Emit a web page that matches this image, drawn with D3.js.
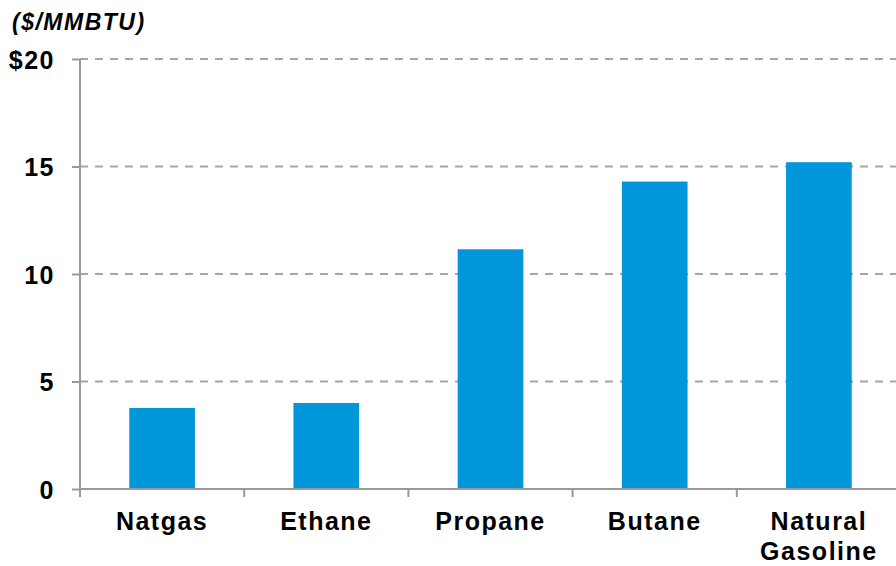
<!DOCTYPE html>
<html>
<head>
<meta charset="utf-8">
<script src="https://cdn.jsdelivr.net/npm/d3@7"></script>
<style>
  body { margin: 0; background: #fff; }
  text { font-family: "Liberation Sans", Arial, sans-serif; font-weight: bold; fill: #000; }
</style>
</head>
<body>
<div id="main"></div>
<script>
const width = 896, height = 566;
const margin = {left: 80, top: 59, right: -5, bottom: 77};

const categories = [["Natgas"], ["Ethane"], ["Propane"], ["Butane"], ["Natural", "Gasoline"]];
const values = [3.77, 4.0, 11.15, 14.3, 15.2];
const yTicks = [0, 5, 10, 15, 20];
const yTickLabels = ["0", "5", "10", "15", "$20"];
const unitLabel = "($/MMBTU)";

let svg = d3.select("#main").append("svg")
    .attr("width", width)
    .attr("height", height);

let scaleX = d3.scaleBand()
    .domain(d3.range(categories.length))
    .range([margin.left, width - margin.right])
    .paddingInner(0.6)
    .paddingOuter(0.3);

let scaleY = d3.scaleLinear()
    .domain([0, 20])
    .range([height - margin.bottom, margin.top]);

// dashed gridlines
svg.append("g")
    .selectAll("line")
    .data(yTicks.filter(d => d > 0))
    .join("line")
    .attr("x1", margin.left)
    .attr("x2", width)
    .attr("y1", d => scaleY(d))
    .attr("y2", d => scaleY(d))
    .attr("stroke", "#a6a6a6")
    .attr("stroke-width", 2)
    .attr("stroke-dasharray", "8,7");

// bars
svg.append("g")
    .selectAll("rect")
    .data(values)
    .join("rect")
    .attr("x", (d, i) => scaleX(i))
    .attr("width", scaleX.bandwidth())
    .attr("y", d => scaleY(d))
    .attr("height", d => scaleY(0) - scaleY(d))
    .attr("fill", "#0097da");

// y axis
let yAxis = svg.append("g")
    .attr("transform", `translate(${margin.left},0)`)
    .call(d3.axisLeft(scaleY).tickValues(yTicks).tickSize(8).tickPadding(17)
        .tickFormat((d, i) => yTickLabels[i]));
yAxis.select(".domain").remove();
yAxis.append("line")
    .attr("x1", 0).attr("x2", 0)
    .attr("y1", scaleY(20)).attr("y2", scaleY(0) + 8)
    .attr("stroke", "#999").attr("stroke-width", 2);
yAxis.selectAll(".tick line").attr("stroke", "#999").attr("stroke-width", 2);
yAxis.selectAll(".tick text")
    .attr("font-size", 25)
    .attr("letter-spacing", 1.5)
    .attr("fill", "#000")
    .attr("font-family", "Liberation Sans, Arial, sans-serif")
    .attr("font-weight", "bold")
    .attr("dy", "0.36em");

// x axis baseline and ticks between categories
let xAxis = svg.append("g");
xAxis.append("line")
    .attr("x1", margin.left).attr("x2", width)
    .attr("y1", scaleY(0)).attr("y2", scaleY(0))
    .attr("stroke", "#999").attr("stroke-width", 2);
xAxis.selectAll(".xtick")
    .data(d3.range(1, categories.length))
    .join("line")
    .attr("class", "xtick")
    .attr("x1", i => scaleX(i) - scaleX.step() * 0.3)
    .attr("x2", i => scaleX(i) - scaleX.step() * 0.3)
    .attr("y1", scaleY(0))
    .attr("y2", scaleY(0) + 8)
    .attr("stroke", "#999").attr("stroke-width", 2);

// category labels
xAxis.selectAll(".xlabel")
    .data(categories)
    .join("text")
    .attr("class", "xlabel")
    .attr("text-anchor", "middle")
    .attr("font-size", 25)
    .attr("letter-spacing", 1.5)
    .attr("transform", (d, i) => `translate(${scaleX(i) + scaleX.bandwidth() / 2},${scaleY(0) + 41})`)
    .selectAll("tspan")
    .data(d => d)
    .join("tspan")
    .attr("x", 0)
    .attr("dy", (d, i) => i === 0 ? 0 : 30)
    .text(d => d);

// unit label
svg.append("text")
    .attr("x", 12)
    .attr("y", 30)
    .attr("font-size", 23)
    .attr("font-style", "italic")
    .attr("letter-spacing", 1.5)
    .text(unitLabel);
</script>
</body>
</html>
